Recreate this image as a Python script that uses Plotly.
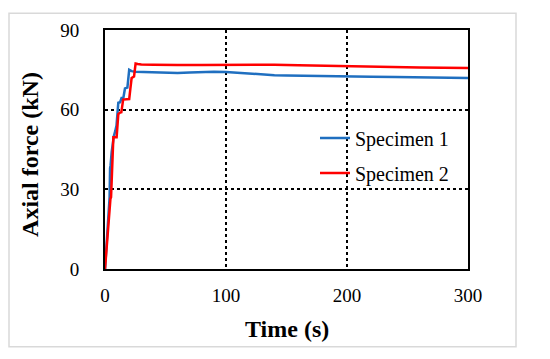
import plotly.graph_objects as go

# Specimen 1
t1 = [0, 1, 2, 3, 3.8, 4.2, 4.6, 5.5, 6.5, 7.4, 8.5, 9.5, 11, 12.5, 13.7, 15.2, 16.5, 18.5, 20, 22, 25, 30,
      40, 50, 60, 70, 80, 90, 100, 110, 120, 130, 140, 150, 160, 170, 180, 200, 220, 240, 260, 280, 300]
f1 = [0, 7, 14, 21, 27, 38, 39, 44, 48, 50.2, 52, 54, 62.6, 62.8, 64.4, 64.5, 68, 68.3, 75, 74.5, 74.3, 74.2,
      74.1, 73.9, 73.8, 74.0, 74.2, 74.3, 74.2, 73.9, 73.5, 73.2, 73.0, 72.9, 72.8, 72.7, 72.6, 72.5, 72.4, 72.3, 72.2, 72.0, 71.9]

# Specimen 2
t2 = [0, 1, 2, 3, 4, 4.5, 5, 6, 6.9, 9.6, 11, 12.4, 13.5, 15, 20, 21, 22, 24, 25.3, 27, 30,
      40, 50, 60, 80, 100, 120, 130, 140, 160, 180, 200, 230, 260, 300]
f2 = [0, 6.5, 13, 19.5, 26, 26.5, 27, 40, 49.6, 49.6, 58.3, 58.9, 59, 63.8, 64, 68, 71.9, 72.5, 77.4, 77.2, 77.0,
      76.9, 76.8, 76.8, 76.8, 76.9, 77.0, 77.0, 76.9, 76.7, 76.5, 76.3, 76.1, 75.9, 75.7]

series_names = ["Specimen 1", "Specimen 2"]
x_ticks = [0, 100, 200, 300]
y_ticks = [0, 30, 60, 90]

FONT = "Liberation Serif"

W, H = 542, 351
L, R, T, B = 97, 82, 18, 90
pw, ph = W - L - R, H - T - B


def px(x):
    return (x - L) / pw


def py(y):
    return (H - B - y) / ph


fig = go.Figure()
fig.add_trace(go.Scatter(x=t1, y=f1, mode="lines", name=series_names[0], legendgroup="a",
                         line=dict(color="#1f6fc0", width=2.5)))
fig.add_trace(go.Scatter(x=t2, y=f2, mode="lines", name=series_names[1], legendgroup="b",
                         line=dict(color="#ff0000", width=2.5)))

fig.update_layout(
    width=W, height=H,
    margin=dict(l=L, r=R, t=T, b=B),
    paper_bgcolor="white", plot_bgcolor="white",
    font=dict(family=FONT, color="black", size=19),
    showlegend=True,
    legend=dict(x=px(307), y=py(108), xanchor="left", yanchor="top",
                bgcolor="rgba(0,0,0,0)", font=dict(size=20, family=FONT),
                tracegroupgap=6, traceorder="grouped"),
    xaxis=dict(range=[0, 300], tickvals=x_ticks, showgrid=True, gridcolor="black",
               griddash="dot", gridwidth=1.5, zeroline=False, showline=True, linecolor="black",
               linewidth=2, mirror=True, ticks="outside", ticklen=8, tickcolor="rgba(0,0,0,0)",
               tickfont=dict(size=19, family=FONT)),
    yaxis=dict(range=[0, 90], tickvals=y_ticks, showgrid=True, gridcolor="black",
               griddash="dot", gridwidth=1.5, zeroline=False, showline=True, linecolor="black",
               linewidth=2, mirror=True, ticks="outside", ticklen=20, tickcolor="rgba(0,0,0,0)",
               tickfont=dict(size=19, family=FONT)),
    annotations=[
        dict(text="<b>Time (s)</b>", xref="paper", yref="paper", x=0.5, y=py(322),
             xanchor="center", yanchor="middle", showarrow=False, font=dict(size=24, family=FONT)),
        dict(text="<b>Axial force (kN)</b>", xref="paper", yref="paper", x=px(22),
             y=py(145), xanchor="center", yanchor="middle", textangle=-90,
             showarrow=False, font=dict(size=24, family=FONT)),
    ],
    shapes=[dict(type="rect", xref="paper", yref="paper", x0=px(1), x1=px(508),
                 y0=py(340), y1=py(1), line=dict(color="#d9d9d9", width=1.5),
                 layer="below")],
)

fig.write_html("out.html")
